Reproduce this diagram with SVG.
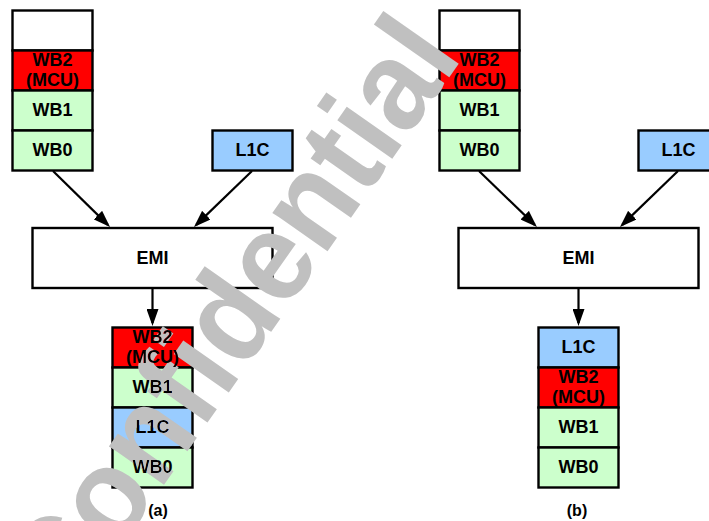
<svg xmlns="http://www.w3.org/2000/svg" xmlns:xlink="http://www.w3.org/1999/xlink" width="709" height="521" viewBox="0 0 709 521">
<style>
.box{stroke:#000;stroke-width:2.4}
.w{fill:#fff}.r{fill:#ff0000}.g{fill:#ccffcc}.b{fill:#99ccff}
.lbl{font-family:"Liberation Sans",Arial,sans-serif;font-weight:bold;font-size:18px;text-anchor:middle;fill:#000}
.cap{font-family:"Liberation Sans",Arial,sans-serif;font-weight:bold;font-size:16px;text-anchor:middle;fill:#000}
.conn{stroke:#000;stroke-width:2.2;fill:none;marker-end:url(#ah)}
.wm{font-family:"Liberation Sans",Arial,sans-serif;font-weight:bold;font-size:127px;fill:#c0c0c0}
</style>
<defs>
<marker id="ah" markerUnits="userSpaceOnUse" markerWidth="18" markerHeight="12" refX="14" refY="6" orient="auto">
<path d="M0,0 L17,6 L0,12 z" fill="#000"/>
</marker>
<mask id="wmMask" maskUnits="userSpaceOnUse" x="0" y="0" width="709" height="521">
<rect x="0" y="0" width="709" height="521" fill="#fff"/>
<use href="#t1"/><use href="#t2"/><use href="#t3"/><use href="#t4"/><use href="#t5"/><use href="#t6"/><use href="#t7"/><use href="#t8"/><use href="#t9"/><use href="#t10"/><use href="#t11"/><use href="#t12"/><use href="#t13"/><use href="#t14"/><use href="#t15"/><use href="#t16"/><use href="#t17"/><use href="#t18"/><use href="#t19"/><use href="#t20"/>
</mask>
</defs>

<!-- (a) -->
<g id="a-top-empty"><rect class="box w" x="12.5" y="10.5" width="80" height="40"/></g>
<g id="a-top-wb2"><rect class="box r" x="12.5" y="50.5" width="80" height="40"/><text id="t1" class="lbl" x="52.5" y="66">WB2</text><text id="t2" class="lbl" x="52.5" y="86">(MCU)</text></g>
<g id="a-top-wb1"><rect class="box g" x="12.5" y="90.5" width="80" height="40"/><text id="t3" class="lbl" x="52.5" y="115.5">WB1</text></g>
<g id="a-top-wb0"><rect class="box g" x="12.5" y="130.5" width="80" height="40"/><text id="t4" class="lbl" x="52.5" y="155.5">WB0</text></g>
<g id="a-l1c"><rect class="box b" x="212.5" y="130.5" width="80" height="40"/><text id="t5" class="lbl" x="252.5" y="155.5">L1C</text></g>
<g id="a-emi"><rect class="box w" x="32.5" y="228" width="240" height="60"/><text id="t6" class="lbl" x="152.5" y="264">EMI</text></g>
<g id="a-bot-wb2"><rect class="box r" x="112.5" y="327.5" width="80" height="40"/><text id="t7" class="lbl" x="152.5" y="343">WB2</text><text id="t8" class="lbl" x="152.5" y="363">(MCU)</text></g>
<g id="a-bot-wb1"><rect class="box g" x="112.5" y="367.5" width="80" height="40"/><text id="t9" class="lbl" x="152.5" y="392.5">WB1</text></g>
<g id="a-bot-l1c"><rect class="box b" x="112.5" y="407.5" width="80" height="40"/><text id="t10" class="lbl" x="152.5" y="432.5">L1C</text></g>
<g id="a-bot-wb0"><rect class="box g" x="112.5" y="447.5" width="80" height="40"/><text id="t11" class="lbl" x="152.5" y="472.5">WB0</text></g>
<text id="t12" class="cap" x="158" y="516">(a)</text>

<!-- (b) -->
<g id="b-top-empty"><rect class="box w" x="439.5" y="10.5" width="80" height="40"/></g>
<g id="b-top-wb2"><rect class="box r" x="439.5" y="50.5" width="80" height="40"/><text id="t13" class="lbl" x="479.5" y="66">WB2</text><text id="t14" class="lbl" x="479.5" y="86">(MCU)</text></g>
<g id="b-top-wb1"><rect class="box g" x="439.5" y="90.5" width="80" height="40"/><text id="t15" class="lbl" x="479.5" y="115.5">WB1</text></g>
<g id="b-top-wb0"><rect class="box g" x="439.5" y="130.5" width="80" height="40"/><text id="t16" class="lbl" x="479.5" y="155.5">WB0</text></g>
<g id="b-l1c"><rect class="box b" x="638.5" y="130.5" width="80" height="40"/><text id="t17" class="lbl" x="678.5" y="155.5">L1C</text></g>
<g id="b-emi"><rect class="box w" x="458.5" y="228" width="240" height="60"/><text id="t18" class="lbl" x="578.5" y="264">EMI</text></g>
<g id="b-bot-l1c"><rect class="box b" x="538.5" y="327.5" width="80" height="40"/><text id="t19" class="lbl" x="578.5" y="352.5">L1C</text></g>
<g id="b-bot-wb2"><rect class="box r" x="538.5" y="367.5" width="80" height="40"/><text id="t20" class="lbl" x="578.5" y="383">WB2</text><text class="lbl" x="578.5" y="403">(MCU)</text></g>
<g id="b-bot-wb1"><rect class="box g" x="538.5" y="407.5" width="80" height="40"/><text class="lbl" x="578.5" y="432.5">WB1</text></g>
<g id="b-bot-wb0"><rect class="box g" x="538.5" y="447.5" width="80" height="40"/><text class="lbl" x="578.5" y="472.5">WB0</text></g>
<text class="cap" x="577" y="516">(b)</text>

<g id="connectors">
<line class="conn" x1="53" y1="171" x2="107.9" y2="224.9"/>
<line class="conn" x1="252" y1="171" x2="196.2" y2="224.9"/>
<line class="conn" x1="152.5" y1="289" x2="152.5" y2="323"/>
<line class="conn" x1="479" y1="171" x2="534.8" y2="224.9"/>
<line class="conn" x1="678" y1="171" x2="622.2" y2="224.9"/>
<line class="conn" x1="578.5" y1="289" x2="578.5" y2="323"/>
</g>

<g id="watermark" mask="url(#wmMask)">
<text class="wm" transform="translate(68,621.8) rotate(-55) scale(0.94,1)">Confidential</text>
</g>
</svg>
